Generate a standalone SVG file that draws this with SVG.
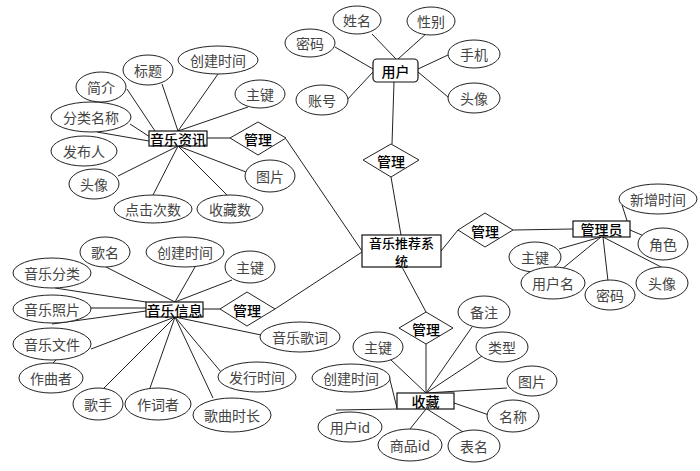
<svg xmlns="http://www.w3.org/2000/svg" width="700" height="471" viewBox="0 0 700 471">
<style>
.bg{fill:#fff}
.ln{stroke:#222;stroke-width:1;fill:none}
.gl{stroke:#888;stroke-width:2;fill:none}
.at{fill:#fff;stroke:#222;stroke-width:1}
.en{fill:#fff;stroke:#111;stroke-width:1.2}
.dm{fill:#fff;stroke:#222;stroke-width:1}
text{font-family:"Noto Sans CJK SC","Liberation Sans",sans-serif;text-anchor:middle;dominant-baseline:central}
.ta{font-size:14px;fill:#444}
.te{font-size:14px;fill:#000;font-weight:500}
.ts{font-size:13px;fill:#000;font-weight:500}
.td{font-size:14px;fill:#000;font-weight:500}
</style>
<rect class="bg" x="0" y="0" width="700" height="471"/>
<g id="connectors">
<line class="ln" x1="372" y1="34" x2="396" y2="59"/>
<line class="ln" x1="427" y1="33" x2="398" y2="59"/>
<line class="ln" x1="335" y1="47" x2="373" y2="69"/>
<line class="ln" x1="346" y1="101" x2="373" y2="72"/>
<line class="ln" x1="448" y1="55" x2="418" y2="69"/>
<line class="ln" x1="448" y1="97" x2="418" y2="72"/>
<line class="ln" x1="394" y1="82" x2="392" y2="144"/>
<line class="ln" x1="391" y1="177" x2="401" y2="235"/>
<line class="ln" x1="441" y1="251" x2="458" y2="230"/>
<line class="ln" x1="513" y1="230" x2="573" y2="229"/>
<line class="ln" x1="622" y1="205" x2="630" y2="230"/>
<line class="ln" x1="630" y1="230" x2="644" y2="236"/>
<line class="ln" x1="559" y1="249" x2="601" y2="237"/>
<line class="ln" x1="562" y1="269" x2="601" y2="237"/>
<line class="ln" x1="608" y1="281" x2="603" y2="237"/>
<line class="ln" x1="663" y1="268" x2="603" y2="237"/>
<line class="ln" x1="402" y1="267" x2="426" y2="312"/>
<line class="ln" x1="426" y1="344" x2="426" y2="393"/>
<line class="ln" x1="472" y1="327" x2="426" y2="393"/>
<line class="ln" x1="391" y1="360" x2="426" y2="393"/>
<line class="ln" x1="482" y1="356" x2="426" y2="393"/>
<line class="ln" x1="389" y1="376" x2="397" y2="408"/>
<line class="ln" x1="507" y1="388" x2="426" y2="393"/>
<line class="ln" x1="489" y1="415" x2="454" y2="403"/>
<line class="ln" x1="336" y1="410" x2="397" y2="409"/>
<line class="ln" x1="410" y1="429" x2="426" y2="409"/>
<line class="ln" x1="463" y1="432" x2="427" y2="409"/>
<line class="gl" x1="207" y1="138" x2="230" y2="138"/>
<line class="ln" x1="286" y1="139" x2="362" y2="251"/>
<line class="ln" x1="127" y1="89" x2="155" y2="131"/>
<line class="ln" x1="162" y1="84" x2="178" y2="131"/>
<line class="ln" x1="218" y1="74" x2="178" y2="131"/>
<line class="ln" x1="248" y1="107" x2="178" y2="131"/>
<line class="ln" x1="130" y1="124" x2="150" y2="137"/>
<line class="ln" x1="97" y1="132" x2="149" y2="141"/>
<line class="ln" x1="118" y1="176" x2="178" y2="146"/>
<line class="ln" x1="153" y1="195" x2="178" y2="146"/>
<line class="ln" x1="228" y1="196" x2="178" y2="146"/>
<line class="ln" x1="246" y1="172" x2="178" y2="146"/>
<line class="gl" x1="203" y1="309" x2="220" y2="309"/>
<line class="ln" x1="275" y1="309" x2="362" y2="252"/>
<line class="ln" x1="106" y1="267" x2="175" y2="302"/>
<line class="ln" x1="195" y1="267" x2="175" y2="302"/>
<line class="ln" x1="232" y1="280" x2="175" y2="302"/>
<line class="ln" x1="55" y1="288" x2="146" y2="302"/>
<line class="gl" x1="91" y1="308" x2="146" y2="308"/>
<line class="ln" x1="52" y1="324" x2="146" y2="311"/>
<line class="ln" x1="91" y1="349" x2="175" y2="317"/>
<line class="ln" x1="56" y1="360" x2="53" y2="363"/>
<line class="ln" x1="103" y1="389" x2="175" y2="317"/>
<line class="ln" x1="150" y1="388" x2="175" y2="317"/>
<line class="ln" x1="213" y1="398" x2="175" y2="317"/>
<line class="ln" x1="221" y1="372" x2="175" y2="317"/>
<line class="ln" x1="261" y1="335" x2="175" y2="317"/>
</g>

<g id="user">
<rect class="en" x="373" y="59" width="45" height="23" rx="4"/>
<text class="te" x="395.5" y="70.5">用户</text>
</g>
<g id="user_name"><ellipse class="at" cx="357" cy="20" rx="24" ry="14"/><text class="ta" x="357" y="20">姓名</text></g>
<g id="user_gender"><ellipse class="at" cx="431" cy="21" rx="24" ry="14"/><text class="ta" x="431" y="21">性别</text></g>
<g id="user_pwd"><ellipse class="at" cx="310" cy="43" rx="25" ry="14"/><text class="ta" x="310" y="43">密码</text></g>
<g id="user_account"><ellipse class="at" cx="322" cy="100" rx="26" ry="15"/><text class="ta" x="322" y="100">账号</text></g>
<g id="user_phone"><ellipse class="at" cx="474" cy="54" rx="26" ry="14"/><text class="ta" x="474" y="54">手机</text></g>
<g id="user_avatar"><ellipse class="at" cx="474" cy="98" rx="26" ry="15"/><text class="ta" x="474" y="98">头像</text></g>
<g id="rel_user"><polygon class="dm" points="391,144 419,160 391,177 363,160"/><text class="td" x="391" y="160.5">管理</text></g>

<g id="system">
<rect class="en" x="362" y="235" width="79" height="32"/>
<text class="ts" x="401.5" y="242.5">音乐推荐系</text>
<text class="ts" x="401.5" y="260">统</text>
</g>

<g id="rel_admin"><polygon class="dm" points="485,213 513,230 485,247 458,230"/><text class="td" x="485" y="230.5">管理</text></g>
<g id="admin">
<rect class="en" x="573" y="221" width="57" height="16"/>
<text class="te" x="601.5" y="229">管理员</text>
</g>
<g id="admin_added"><ellipse class="at" cx="658" cy="199" rx="39" ry="15"/><text class="ta" x="658" y="199">新增时间</text></g>
<g id="admin_role"><ellipse class="at" cx="663" cy="244" rx="25" ry="16"/><text class="ta" x="663" y="244">角色</text></g>
<g id="admin_pk"><ellipse class="at" cx="535" cy="257" rx="26" ry="15"/><text class="ta" x="535" y="257">主键</text></g>
<g id="admin_username"><ellipse class="at" cx="553" cy="283" rx="32" ry="16"/><text class="ta" x="553" y="283">用户名</text></g>
<g id="admin_pwd"><ellipse class="at" cx="610" cy="295" rx="25" ry="15"/><text class="ta" x="610" y="295">密码</text></g>
<g id="admin_avatar"><ellipse class="at" cx="662" cy="283" rx="26" ry="16"/><text class="ta" x="662" y="283">头像</text></g>

<g id="rel_fav"><polygon class="dm" points="426,312 453,328 426,344 399,328"/><text class="td" x="426" y="328.5">管理</text></g>
<g id="fav">
<rect class="en" x="397" y="393" width="57" height="16"/>
<text class="te" x="425.5" y="401">收藏</text>
</g>
<g id="fav_note"><ellipse class="at" cx="484" cy="312" rx="26" ry="16"/><text class="ta" x="484" y="312">备注</text></g>
<g id="fav_pk"><ellipse class="at" cx="378" cy="347" rx="25" ry="15"/><text class="ta" x="378" y="347">主键</text></g>
<g id="fav_type"><ellipse class="at" cx="502" cy="347" rx="26" ry="15"/><text class="ta" x="502" y="347">类型</text></g>
<g id="fav_created"><ellipse class="at" cx="351" cy="378" rx="39" ry="14"/><text class="ta" x="351" y="378">创建时间</text></g>
<g id="fav_pic"><ellipse class="at" cx="532" cy="381" rx="25" ry="15"/><text class="ta" x="532" y="381">图片</text></g>
<g id="fav_name"><ellipse class="at" cx="513" cy="416" rx="26" ry="16"/><text class="ta" x="513" y="416">名称</text></g>
<g id="fav_userid"><ellipse class="at" cx="350" cy="427" rx="32" ry="15"/><text class="ta" x="350" y="427">用户id</text></g>
<g id="fav_goodsid"><ellipse class="at" cx="410" cy="445" rx="32" ry="16"/><text class="ta" x="410" y="445">商品id</text></g>
<g id="fav_table"><ellipse class="at" cx="474" cy="446" rx="26" ry="16"/><text class="ta" x="474" y="446">表名</text></g>

<g id="news">
<rect class="en" x="149" y="131" width="58" height="15"/>
<text class="te" x="178" y="138.5">音乐资讯</text>
</g>
<g id="rel_news"><polygon class="dm" points="258,122 286,138 258,155 230,138"/><text class="td" x="258" y="138.5">管理</text></g>
<g id="news_intro"><ellipse class="at" cx="101" cy="87" rx="25" ry="15"/><text class="ta" x="101" y="87">简介</text></g>
<g id="news_title"><ellipse class="at" cx="148" cy="70" rx="25" ry="15"/><text class="ta" x="148" y="70">标题</text></g>
<g id="news_created"><ellipse class="at" cx="218" cy="60" rx="40" ry="14"/><text class="ta" x="218" y="60">创建时间</text></g>
<g id="news_pk"><ellipse class="at" cx="260" cy="94" rx="25" ry="14"/><text class="ta" x="260" y="94">主键</text></g>
<g id="news_category"><ellipse class="at" cx="91" cy="117" rx="40" ry="15"/><text class="ta" x="91" y="117">分类名称</text></g>
<g id="news_publisher"><ellipse class="at" cx="84" cy="151" rx="33" ry="15"/><text class="ta" x="84" y="151">发布人</text></g>
<g id="news_avatar"><ellipse class="at" cx="94" cy="184" rx="25" ry="15"/><text class="ta" x="94" y="184">头像</text></g>
<g id="news_clicks"><ellipse class="at" cx="153" cy="209" rx="39" ry="14"/><text class="ta" x="153" y="209">点击次数</text></g>
<g id="news_favs"><ellipse class="at" cx="230" cy="209" rx="33" ry="14"/><text class="ta" x="230" y="209">收藏数</text></g>
<g id="news_pic"><ellipse class="at" cx="270" cy="176" rx="25" ry="16"/><text class="ta" x="270" y="176">图片</text></g>

<g id="music">
<rect class="en" x="146" y="302" width="57" height="15"/>
<text class="te" x="174.5" y="309.5">音乐信息</text>
</g>
<g id="rel_music"><polygon class="dm" points="247,292 275,309 247,326 220,309"/><text class="td" x="247" y="309.5">管理</text></g>
<g id="music_name"><ellipse class="at" cx="105" cy="252" rx="25" ry="15"/><text class="ta" x="105" y="252">歌名</text></g>
<g id="music_created"><ellipse class="at" cx="185" cy="252" rx="39" ry="15"/><text class="ta" x="185" y="252">创建时间</text></g>
<g id="music_pk"><ellipse class="at" cx="250" cy="267" rx="25" ry="16"/><text class="ta" x="250" y="267">主键</text></g>
<g id="music_category"><ellipse class="at" cx="52" cy="273" rx="39" ry="15"/><text class="ta" x="52" y="273">音乐分类</text></g>
<g id="music_photo"><ellipse class="at" cx="52" cy="309" rx="39" ry="14"/><text class="ta" x="52" y="309">音乐照片</text></g>
<g id="music_file"><ellipse class="at" cx="52" cy="344" rx="39" ry="16"/><text class="ta" x="52" y="344">音乐文件</text></g>
<g id="music_composer"><ellipse class="at" cx="51" cy="378" rx="32" ry="15"/><text class="ta" x="51" y="378">作曲者</text></g>
<g id="music_singer"><ellipse class="at" cx="98" cy="404" rx="25" ry="16"/><text class="ta" x="98" y="404">歌手</text></g>
<g id="music_lyricist"><ellipse class="at" cx="158" cy="404" rx="33" ry="16"/><text class="ta" x="158" y="404">作词者</text></g>
<g id="music_duration"><ellipse class="at" cx="232" cy="415" rx="39" ry="17"/><text class="ta" x="232" y="415">歌曲时长</text></g>
<g id="music_release"><ellipse class="at" cx="257" cy="377" rx="39" ry="15"/><text class="ta" x="257" y="377">发行时间</text></g>
<g id="music_lyrics"><ellipse class="at" cx="300" cy="337" rx="40" ry="15"/><text class="ta" x="300" y="337">音乐歌词</text></g>
</svg>
